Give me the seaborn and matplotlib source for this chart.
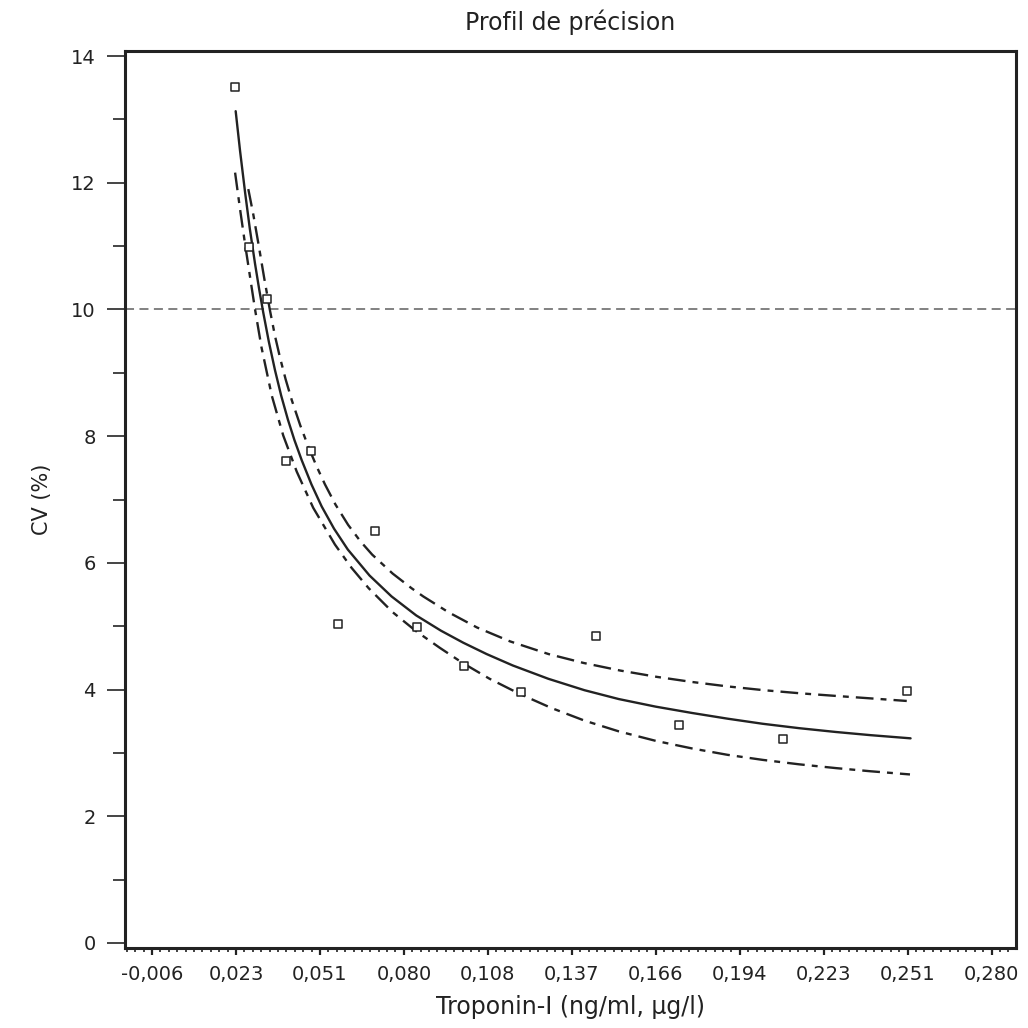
"""
plot.py
-------
Precision profile (CV % vs Troponin-I concentration) with fitted curve
and its confidence band.

Run:
    python plot.py
"""

import matplotlib
matplotlib.use("Agg")
import matplotlib.pyplot as plt
from matplotlib.ticker import FixedLocator, AutoMinorLocator
import seaborn as sns

# ---- measured points (replicate CV) ----
conc_pts = [0.0223, 0.0270, 0.0332, 0.0396, 0.0481, 0.0573, 0.0699,
            0.0842, 0.1002, 0.1196, 0.1452, 0.1734, 0.2088, 0.2511]
cv_pts = [13.51, 10.99, 10.17, 7.60, 7.77, 5.04, 6.50,
          4.98, 4.37, 3.96, 4.84, 3.44, 3.22, 3.97]

# ---- fitted profile ----
fit_x = [0.0225, 0.0240, 0.0257, 0.0273, 0.0291, 0.0305, 0.0319, 0.0338,
         0.0359, 0.0380, 0.0403, 0.0425, 0.0450, 0.0483, 0.0518, 0.0560,
         0.0607, 0.0681, 0.0756, 0.0840, 0.0924, 0.1000, 0.1080, 0.1169,
         0.1290, 0.1413, 0.1530, 0.1656, 0.1780, 0.1901, 0.2020, 0.2145,
         0.2270, 0.2388, 0.2524]
fit_y = [13.13, 12.50, 11.85, 11.28, 10.72, 10.32, 9.95, 9.49,
         9.04, 8.64, 8.26, 7.94, 7.62, 7.24, 6.89, 6.54,
         6.21, 5.80, 5.47, 5.17, 4.93, 4.74, 4.56, 4.38,
         4.17, 3.99, 3.85, 3.73, 3.63, 3.54, 3.46, 3.39,
         3.33, 3.28, 3.23]

# ---- upper confidence limit ----
upper_x = [0.0268, 0.0285, 0.0302, 0.0322, 0.0342, 0.0359, 0.0376, 0.0395,
           0.0416, 0.0445, 0.0472, 0.0500, 0.0529, 0.0565, 0.0608, 0.0650,
           0.0690, 0.0760, 0.0824, 0.0864, 0.0950, 0.1047, 0.1160, 0.1291,
           0.1410, 0.1535, 0.1660, 0.1779, 0.1900, 0.2024, 0.2150, 0.2268,
           0.2390, 0.2511]
upper_y = [11.90, 11.50, 11.05, 10.50, 9.98, 9.58, 9.24, 8.90,
           8.57, 8.17, 7.84, 7.53, 7.24, 6.92, 6.60, 6.34,
           6.13, 5.83, 5.60, 5.47, 5.22, 4.98, 4.76, 4.56,
           4.42, 4.30, 4.20, 4.12, 4.05, 3.99, 3.94, 3.90,
           3.86, 3.82]

# ---- lower confidence limit ----
lower_x = [0.0223, 0.0240, 0.0257, 0.0279, 0.0291, 0.0313, 0.0348, 0.0387,
           0.0433, 0.0489, 0.0563, 0.0620, 0.0678, 0.0760, 0.0840, 0.0920,
           0.0998, 0.1090, 0.1193, 0.1300, 0.1413, 0.1530, 0.1656, 0.1780,
           0.1900, 0.2020, 0.2144, 0.2270, 0.2388, 0.2522]
lower_y = [12.16, 11.58, 11.03, 10.36, 10.00, 9.40, 8.64, 8.01,
           7.44, 6.87, 6.29, 5.92, 5.60, 5.22, 4.92, 4.66,
           4.42, 4.17, 3.93, 3.71, 3.51, 3.34, 3.19, 3.07,
           2.97, 2.89, 2.82, 2.76, 2.71, 2.66]

cv_target = 10

x_ticks = [-0.006, 0.0226, 0.0512, 0.0798, 0.1084, 0.137, 0.1656,
           0.1942, 0.2228, 0.2514, 0.280]
x_labels = ["-0,006", "0,023", "0,051", "0,080", "0,108", "0,137",
            "0,166", "0,194", "0,223", "0,251", "0,280"]
y_ticks = [0, 2, 4, 6, 8, 10, 12, 14]

INK = "#222222"


def plot_precision_profile() -> None:
    sns.set_theme(style="ticks")
    plt.rcParams["font.family"] = ["DejaVu Sans"]

    fig = plt.figure(figsize=(10.28, 10.28), dpi=100)
    ax = fig.add_axes([0.1216, 0.0778, 0.8664, 0.8726])

    ax.axhline(cv_target, color="#777777", lw=1.3, ls=(0, (5, 3)), zorder=1)

    dashdot = (0, (7.5, 3, 2.5, 3))
    sns.lineplot(x=fit_x, y=fit_y, ax=ax, color=INK, lw=1.7, zorder=2)
    sns.lineplot(x=upper_x, y=upper_y, ax=ax, color=INK, lw=1.7,
                 linestyle=dashdot, zorder=2)
    sns.lineplot(x=lower_x, y=lower_y, ax=ax, color=INK, lw=1.7,
                 linestyle=dashdot, zorder=2)
    sns.scatterplot(x=conc_pts, y=cv_pts, ax=ax, marker="s", s=38,
                    facecolor="white", edgecolor=INK, linewidth=1.1, zorder=3)

    ax.set_xlim(-0.0152, 0.2882)
    ax.set_ylim(-0.08, 14.08)

    ax.xaxis.set_major_locator(FixedLocator(x_ticks))
    ax.set_xticklabels(x_labels)
    ax.xaxis.set_minor_locator(AutoMinorLocator(10))
    ax.yaxis.set_major_locator(FixedLocator(y_ticks))
    ax.yaxis.set_minor_locator(AutoMinorLocator(2))

    ax.tick_params(axis="x", which="major", length=5, width=1.6,
                   color=INK, labelsize=14, pad=7, labelcolor=INK)
    ax.tick_params(axis="x", which="minor", length=3, width=1.2, color=INK)
    ax.tick_params(axis="y", which="major", length=13, width=1.4,
                   color="#444444", labelsize=14, pad=8, labelcolor=INK)
    ax.tick_params(axis="y", which="minor", length=8.5, width=1.4,
                   color="#444444")

    for side in ("left", "right", "top", "bottom"):
        ax.spines[side].set_visible(True)
        ax.spines[side].set_color(INK)
        ax.spines[side].set_linewidth(2.2)

    ax.set_title("Profil de précision", fontsize=17, color=INK, pad=15)
    ax.set_xlabel("Troponin-I (ng/ml, µg/l)", fontsize=17, color=INK,
                  labelpad=8)
    ax.set_ylabel("CV (%)", fontsize=15, color=INK, labelpad=14)

    fig.savefig("out.png", dpi=100, facecolor="white")
    plt.close(fig)


if __name__ == "__main__":
    plot_precision_profile()
